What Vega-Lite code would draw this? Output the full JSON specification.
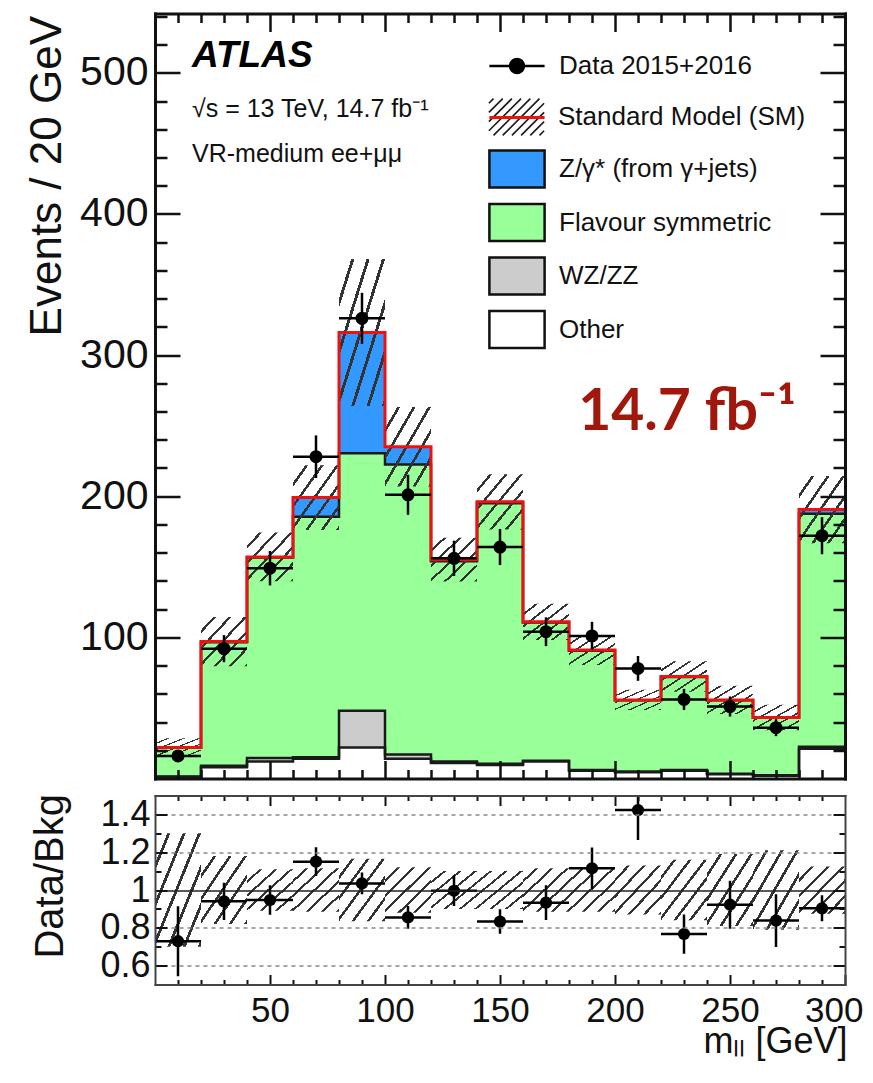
{
  "$schema": "https://vega.github.io/schema/vega-lite/v6.json",
  "background": "white",
  "padding": {"left": 25, "top": 11.5, "right": 5, "bottom": 5},
  "bounds": "flush",
  "spacing": 17,
  "config": {
    "font": "Liberation Sans",
    "view": {"stroke": null},
    "axis": {"labelFont": "Liberation Sans", "titleFont": "Liberation Sans", "labelColor": "#111", "titleColor": "#111", "tickColor": "#111", "titleFontWeight": "normal", "grid": false, "labelFlush": false, "domainCap": "square"},
    "legend": {"orient": "none", "title": null, "padding": 0, "direction": "vertical", "labelFont": "Liberation Sans", "labelFontSize": 26, "labelColor": "#111", "labelOffset": 17.5, "rowPadding": 5.5, "labelLimit": 400, "symbolSize": 2116, "symbolOpacity": 1}
  },
  "title": {
    "text": "ATLAS",
    "subtitle": ["√s = 13 TeV, 14.7 fb⁻¹", "VR-medium ee+μμ"],
    "anchor": "start", "frame": "group", "orient": "top", "offset": -156, "dx": 37,
    "font": "Liberation Sans", "fontSize": 37, "fontWeight": "bold", "fontStyle": "italic", "color": "#000",
    "subtitleFont": "Liberation Sans", "subtitleFontSize": 25, "subtitleColor": "#111", "subtitlePadding": 22, "subtitleLineHeight": 45
  },
  "datasets": {
    "bkg": [
      {"lo": 0, "hi": 20, "c_z": 0, "d_fs": 20.5, "e_wz": 0.5, "f_other": 1},
      {"lo": 20, "hi": 40, "c_z": 0.5, "d_fs": 87.5, "e_wz": 1, "f_other": 8},
      {"lo": 40, "hi": 60, "c_z": 0.5, "d_fs": 142, "e_wz": 2.5, "f_other": 12},
      {"lo": 60, "hi": 80, "c_z": 13.5, "d_fs": 170.5, "e_wz": 1, "f_other": 14},
      {"lo": 80, "hi": 100, "c_z": 85.5, "d_fs": 182.5, "e_wz": 26, "f_other": 22},
      {"lo": 100, "hi": 120, "c_z": 12.5, "d_fs": 205.5, "e_wz": 3, "f_other": 14},
      {"lo": 120, "hi": 140, "c_z": 1, "d_fs": 142, "e_wz": 1, "f_other": 11},
      {"lo": 140, "hi": 160, "c_z": 1, "d_fs": 184.5, "e_wz": 1, "f_other": 9.5},
      {"lo": 160, "hi": 180, "c_z": 0.5, "d_fs": 98, "e_wz": 0.5, "f_other": 12},
      {"lo": 180, "hi": 200, "c_z": 0.5, "d_fs": 84.5, "e_wz": 0.5, "f_other": 5.5},
      {"lo": 200, "hi": 220, "c_z": 0.2, "d_fs": 50.5, "e_wz": 0.5, "f_other": 4.5},
      {"lo": 220, "hi": 240, "c_z": 0.2, "d_fs": 66, "e_wz": 0.5, "f_other": 5.5},
      {"lo": 240, "hi": 260, "c_z": 0.2, "d_fs": 52.2, "e_wz": 0.3, "f_other": 3},
      {"lo": 260, "hi": 280, "c_z": 0.2, "d_fs": 40.7, "e_wz": 0.3, "f_other": 2},
      {"lo": 280, "hi": 300, "c_z": 3, "d_fs": 165, "e_wz": 1.5, "f_other": 21},
      {"lo": 300, "hi": 300, "c_z": 3, "d_fs": 165, "e_wz": 1.5, "f_other": 21}
    ],
    "bins": [
      {"lo": 0, "hi": 20, "m": 10, "n": 16, "nlo": 12, "nhi": 20, "blo": 15.4, "bhi": 28.6, "r": 0.729, "rlo": 0.544, "rhi": 0.914, "rblo": 0.70, "rbhi": 1.30},
      {"lo": 20, "hi": 40, "m": 30, "n": 92, "nlo": 82.4, "nhi": 101.6, "blo": 79.5, "bhi": 114.5, "r": 0.94, "rlo": 0.841, "rhi": 1.039, "rblo": 0.82, "rbhi": 1.18},
      {"lo": 40, "hi": 60, "m": 50, "n": 149, "nlo": 136.8, "nhi": 161.2, "blo": 139.7, "bhi": 174.3, "r": 0.947, "rlo": 0.869, "rhi": 1.025, "rblo": 0.89, "rbhi": 1.11},
      {"lo": 60, "hi": 80, "m": 70, "n": 228, "nlo": 212.9, "nhi": 243.1, "blo": 176.1, "bhi": 221.9, "r": 1.15, "rlo": 1.074, "rhi": 1.226, "rblo": 0.885, "rbhi": 1.115},
      {"lo": 80, "hi": 100, "m": 90, "n": 326, "nlo": 307.9, "nhi": 344.1, "blo": 263.9, "bhi": 368.1, "r": 1.035, "rlo": 0.978, "rhi": 1.092, "rblo": 0.835, "rbhi": 1.165},
      {"lo": 100, "hi": 120, "m": 110, "n": 201, "nlo": 186.8, "nhi": 215.2, "blo": 206.8, "bhi": 263.2, "r": 0.855, "rlo": 0.795, "rhi": 0.915, "rblo": 0.88, "rbhi": 1.12},
      {"lo": 120, "hi": 140, "m": 130, "n": 156, "nlo": 143.5, "nhi": 168.5, "blo": 139.5, "bhi": 170.5, "r": 0.996, "rlo": 0.915, "rhi": 1.077, "rblo": 0.90, "rbhi": 1.10},
      {"lo": 140, "hi": 160, "m": 150, "n": 164, "nlo": 151.2, "nhi": 176.8, "blo": 176.4, "bhi": 215.6, "r": 0.833, "rlo": 0.768, "rhi": 0.898, "rblo": 0.90, "rbhi": 1.10},
      {"lo": 160, "hi": 180, "m": 170, "n": 104, "nlo": 93.8, "nhi": 114.2, "blo": 98.2, "bhi": 123.8, "r": 0.933, "rlo": 0.841, "rhi": 1.025, "rblo": 0.885, "rbhi": 1.115},
      {"lo": 180, "hi": 200, "m": 190, "n": 101, "nlo": 91, "nhi": 111, "blo": 80.5, "bhi": 101.5, "r": 1.115, "rlo": 1.005, "rhi": 1.225, "rblo": 0.885, "rbhi": 1.115},
      {"lo": 200, "hi": 220, "m": 210, "n": 78, "nlo": 69.2, "nhi": 86.8, "blo": 48.5, "bhi": 62.9, "r": 1.423, "rlo": 1.265, "rhi": 1.581, "rblo": 0.87, "rbhi": 1.13},
      {"lo": 220, "hi": 240, "m": 230, "n": 56, "nlo": 48.5, "nhi": 63.5, "blo": 61.4, "bhi": 83, "r": 0.767, "rlo": 0.663, "rhi": 0.871, "rblo": 0.84, "rbhi": 1.16},
      {"lo": 240, "hi": 260, "m": 250, "n": 51, "nlo": 43.9, "nhi": 58.1, "blo": 45.7, "bhi": 65.7, "r": 0.922, "rlo": 0.795, "rhi": 1.049, "rblo": 0.81, "rbhi": 1.19},
      {"lo": 260, "hi": 280, "m": 270, "n": 36, "nlo": 30, "nhi": 42, "blo": 34.1, "bhi": 52.3, "r": 0.838, "rlo": 0.699, "rhi": 0.977, "rblo": 0.79, "rbhi": 1.21},
      {"lo": 280, "hi": 300, "m": 290, "n": 172, "nlo": 158.9, "nhi": 185.1, "blo": 166.7, "bhi": 214.3, "r": 0.903, "rlo": 0.834, "rhi": 0.972, "rblo": 0.875, "rbhi": 1.125}
    ]
  },
  "resolve": {"scale": {"x": "independent", "y": "independent"}},
  "vconcat": [
    {
      "width": 690,
      "height": 765,
      "title": {"text": "14.7 fb⁻¹", "anchor": "end", "frame": "group", "orient": "top", "offset": -430, "dx": -49, "font": "Lato", "fontSize": 57, "fontWeight": "bold", "color": "#a0180c"},
      "resolve": {"axis": {"x": "independent", "y": "independent"}},
      "layer": [
        {
          "data": {"name": "bkg"},
          "transform": [
            {"fold": ["c_z", "d_fs", "e_wz", "f_other"], "as": ["proc", "n"]},
            {"filter": "datum.lo < 300"},
            {"stack": "n", "groupby": ["lo"], "sort": [{"field": "proc", "order": "descending"}], "as": ["n0", "n1"]}
          ],
          "mark": {"type": "rect"},
          "encoding": {
            "x": {"field": "lo", "type": "quantitative", "scale": {"domain": [0, 300], "nice": false, "zero": false},
              "axis": {"orient": "bottom", "values": [10,20,30,40,50,60,70,80,90,100,110,120,130,140,150,160,170,180,190,200,210,220,230,240,250,260,270,280,290], "labels": false, "title": null,
                "tickSize": -18, "tickDash": {"condition": {"test": "datum.value % 50 === 0", "value": [40, 0]}, "value": [9, 40]}, "tickWidth": 2.5,
                "domain": true, "domainWidth": 3, "domainColor": "#111", "zindex": 1}},
            "x2": {"field": "hi"},
            "y": {"field": "n0", "type": "quantitative", "scale": {"domain": [0, 542], "nice": false},
              "axis": {"orient": "left", "values": [20,40,60,80,100,120,140,160,180,200,220,240,260,280,300,320,340,360,380,400,420,440,460,480,500,520,540],
                "labelExpr": "datum.value % 100 === 0 ? datum.label : ''", "labelFontSize": 41, "labelPadding": 32,
                "tickSize": -25, "tickDash": {"condition": {"test": "datum.value % 100 === 0", "value": [40, 0]}, "value": [12, 40]}, "tickWidth": 2.5,
                "domain": true, "domainWidth": 3, "domainColor": "#111", "zindex": 1,
                "title": "Events / 20 GeV", "titleFontSize": 44, "titleAngle": 270, "titleX": -95, "titleY": 2, "titleAlign": "right", "titleBaseline": "alphabetic"}},
            "y2": {"field": "n1"},
            "fill": {"field": "proc", "type": "nominal",
              "scale": {"domain": ["c_z", "d_fs", "e_wz", "f_other"], "range": ["#3399ff", "#99ff99", "#cccccc", "#ffffff"]},
              "legend": {
                "legendX": 337.5, "legendY": 131,
                "symbolStrokeWidth": 2.5, "symbolStrokeColor": "#111", "symbolType": "M-1.2,-0.8H1.2V0.8H-1.2Z",
                "labelExpr": "datum.value === 'c_z' ? 'Z/γ* (from γ+jets)' : datum.value === 'd_fs' ? 'Flavour symmetric' : datum.value === 'e_wz' ? 'WZ/ZZ' : 'Other'"
              }
            }
          }
        },
        {
          "data": {"name": "bkg"},
          "transform": [{"fold": ["c_z", "d_fs", "e_wz", "f_other"], "as": ["proc", "n"]}],
          "mark": {"type": "line", "interpolate": "step-after", "strokeWidth": 2.5},
          "encoding": {
            "x": {"field": "lo", "type": "quantitative", "scale": {"domain": [0, 300], "nice": false, "zero": false}, "axis": null},
            "y": {"field": "n", "type": "quantitative", "stack": "zero", "scale": {"domain": [0, 542], "nice": false}, "axis": null},
            "detail": {"field": "proc", "type": "nominal"},
            "color": {"datum": "Standard Model (SM)", "type": "nominal", "scale": {"range": ["#1a1a1a"]},
              "legend": {"legendX": 337.5, "legendY": 79.5, "symbolStrokeWidth": 1.6,
                "symbolType": "M-1.2,-0.6L-1,-0.8M-1.2,-0.2L-0.6,-0.8M-1.2,0.2L-0.2,-0.8M-1.2,0.6L0.2,-0.8M-1,0.8L0.6,-0.8M-0.6,0.8L1,-0.8M-0.2,0.8L1.2,-0.6M0.2,0.8L1.2,-0.2M0.6,0.8L1.2,0.2M1,0.8L1.2,0.6"}},
            "strokeOpacity": {"condition": {"test": "datum.proc === 'c_z'", "value": 0}, "value": 1}
          }
        },
        {
          "data": {"name": "bins"},
          "mark": {"type": "rect", "fill": {"gradient": "linear", "x1": 0, "y1": 0, "x2": 1, "y2": 1, "stops": [
            {"offset": 0, "color": "rgba(255,255,255,0)"}, {"offset": 0.1333, "color": "rgba(255,255,255,0)"}, {"offset": 0.1333, "color": "#333333"}, {"offset": 0.1667, "color": "#333333"},
            {"offset": 0.1667, "color": "rgba(255,255,255,0)"}, {"offset": 0.3, "color": "rgba(255,255,255,0)"}, {"offset": 0.3, "color": "#333333"}, {"offset": 0.3333, "color": "#333333"},
            {"offset": 0.3333, "color": "rgba(255,255,255,0)"}, {"offset": 0.4667, "color": "rgba(255,255,255,0)"}, {"offset": 0.4667, "color": "#333333"}, {"offset": 0.5, "color": "#333333"},
            {"offset": 0.5, "color": "rgba(255,255,255,0)"}, {"offset": 0.6333, "color": "rgba(255,255,255,0)"}, {"offset": 0.6333, "color": "#333333"}, {"offset": 0.6667, "color": "#333333"},
            {"offset": 0.6667, "color": "rgba(255,255,255,0)"}, {"offset": 0.8, "color": "rgba(255,255,255,0)"}, {"offset": 0.8, "color": "#333333"}, {"offset": 0.8333, "color": "#333333"},
            {"offset": 0.8333, "color": "rgba(255,255,255,0)"}, {"offset": 0.9667, "color": "rgba(255,255,255,0)"}, {"offset": 0.9667, "color": "#333333"}, {"offset": 1, "color": "#333333"}]}},
          "encoding": {
            "x": {"field": "lo", "type": "quantitative", "scale": {"domain": [0, 300], "nice": false, "zero": false}, "axis": null},
            "x2": {"field": "hi"},
            "y": {"field": "blo", "type": "quantitative", "scale": {"domain": [0, 542], "nice": false}, "axis": null},
            "y2": {"field": "bhi"}
          }
        },
        {
          "data": {"name": "bkg"},
          "transform": [{"fold": ["c_z", "d_fs", "e_wz", "f_other"], "as": ["proc", "n"]}],
          "mark": {"type": "line", "interpolate": "step-after", "strokeWidth": 3},
          "encoding": {
            "x": {"field": "lo", "type": "quantitative", "scale": {"domain": [0, 300], "nice": false, "zero": false}, "axis": null},
            "y": {"field": "n", "type": "quantitative", "stack": "zero", "scale": {"domain": [0, 542], "nice": false}, "axis": null},
            "detail": {"field": "proc", "type": "nominal"},
            "stroke": {"datum": "SM", "type": "nominal", "scale": {"range": ["#ee1111"]},
              "legend": {"legendX": 337.5, "legendY": 79.5, "symbolStrokeWidth": 3, "symbolType": "M-1.2,0H1.2", "labelExpr": "''"}},
            "strokeOpacity": {"condition": {"test": "datum.proc === 'c_z'", "value": 1}, "value": 0}
          }
        },
        {
          "data": {"name": "bins"},
          "mark": {"type": "rule", "color": "#000", "strokeWidth": 2.5},
          "encoding": {
            "x": {"field": "m", "type": "quantitative", "scale": {"domain": [0, 300], "nice": false, "zero": false}, "axis": null},
            "y": {"field": "nlo", "type": "quantitative", "scale": {"domain": [0, 542], "nice": false}, "axis": null},
            "y2": {"field": "nhi"}
          }
        },
        {
          "data": {"name": "bins"},
          "mark": {"type": "rule", "color": "#000", "strokeWidth": 2.5},
          "encoding": {
            "x": {"field": "lo", "type": "quantitative", "scale": {"domain": [0, 300], "nice": false, "zero": false}, "axis": null},
            "x2": {"field": "hi"},
            "y": {"field": "n", "type": "quantitative", "scale": {"domain": [0, 542], "nice": false}, "axis": null},
            "strokeDash": {"datum": "Data 2015+2016", "type": "nominal", "scale": {"range": [[1, 0]]},
              "legend": {"legendX": 337.5, "legendY": 28, "symbolStrokeWidth": 2.5, "symbolStrokeColor": "#000", "symbolFillColor": "#000",
                "symbolType": "M-1.2,0H1.2M-0.3,0A0.3,0.3 0 1,1 0.3,0A0.3,0.3 0 1,1 -0.3,0Z"}}
          }
        },
        {
          "data": {"name": "bins"},
          "mark": {"type": "circle", "color": "#000", "opacity": 1, "size": 170},
          "encoding": {
            "x": {"field": "m", "type": "quantitative", "scale": {"domain": [0, 300], "nice": false, "zero": false},
              "axis": {"orient": "top", "values": [10,20,30,40,50,60,70,80,90,100,110,120,130,140,150,160,170,180,190,200,210,220,230,240,250,260,270,280,290], "labels": false, "title": null,
                "tickSize": -18, "tickDash": {"condition": {"test": "datum.value % 50 === 0", "value": [40, 0]}, "value": [9, 40]}, "tickWidth": 2.5,
                "domain": true, "domainWidth": 3, "domainColor": "#111", "zindex": 1}},
            "y": {"field": "n", "type": "quantitative", "scale": {"domain": [0, 542], "nice": false},
              "axis": {"orient": "right", "values": [20,40,60,80,100,120,140,160,180,200,220,240,260,280,300,320,340,360,380,400,420,440,460,480,500,520,540], "labels": false, "title": null,
                "tickSize": -25, "tickDash": {"condition": {"test": "datum.value % 100 === 0", "value": [40, 0]}, "value": [12, 40]}, "tickWidth": 2.5,
                "domain": true, "domainWidth": 3, "domainColor": "#111", "zindex": 1}}
          }
        }
      ]
    },
    {
      "width": 690,
      "height": 189,
      "resolve": {"axis": {"x": "independent", "y": "independent"}},
      "layer": [
        {
          "data": {"name": "bins"},
          "mark": {"type": "rect", "fill": {"gradient": "linear", "x1": 0, "y1": 0, "x2": 1, "y2": 1, "stops": [
            {"offset": 0, "color": "rgba(255,255,255,0)"}, {"offset": 0.1333, "color": "rgba(255,255,255,0)"}, {"offset": 0.1333, "color": "#333333"}, {"offset": 0.1667, "color": "#333333"},
            {"offset": 0.1667, "color": "rgba(255,255,255,0)"}, {"offset": 0.3, "color": "rgba(255,255,255,0)"}, {"offset": 0.3, "color": "#333333"}, {"offset": 0.3333, "color": "#333333"},
            {"offset": 0.3333, "color": "rgba(255,255,255,0)"}, {"offset": 0.4667, "color": "rgba(255,255,255,0)"}, {"offset": 0.4667, "color": "#333333"}, {"offset": 0.5, "color": "#333333"},
            {"offset": 0.5, "color": "rgba(255,255,255,0)"}, {"offset": 0.6333, "color": "rgba(255,255,255,0)"}, {"offset": 0.6333, "color": "#333333"}, {"offset": 0.6667, "color": "#333333"},
            {"offset": 0.6667, "color": "rgba(255,255,255,0)"}, {"offset": 0.8, "color": "rgba(255,255,255,0)"}, {"offset": 0.8, "color": "#333333"}, {"offset": 0.8333, "color": "#333333"},
            {"offset": 0.8333, "color": "rgba(255,255,255,0)"}, {"offset": 0.9667, "color": "rgba(255,255,255,0)"}, {"offset": 0.9667, "color": "#333333"}, {"offset": 1, "color": "#333333"}]}},
          "encoding": {
            "x": {"field": "lo", "type": "quantitative", "scale": {"domain": [0, 300], "nice": false, "zero": false},
              "axis": {"orient": "bottom", "values": [10,20,30,40,50,60,70,80,90,100,110,120,130,140,150,160,170,180,190,200,210,220,230,240,250,260,270,280,290,300],
                "labelExpr": "datum.value % 50 === 0 ? datum.label : ''", "labelFontSize": 35, "labelPadding": 19,
                "labelFlush": true, "labelFlushOffset": 18,
                "tickSize": -10, "tickDash": {"condition": {"test": "datum.value % 50 === 0", "value": [30, 0]}, "value": [5, 30]}, "tickWidth": 2,
                "domain": true, "domainWidth": 2, "domainColor": "#444", "zindex": 1,
                "title": "mₗₗ [GeV]", "titleFontSize": 36, "titleX": 692, "titleY": 68, "titleAlign": "right", "titleBaseline": "alphabetic"}},
            "x2": {"field": "hi"},
            "y": {"field": "rblo", "type": "quantitative", "scale": {"domain": [0.5, 1.5], "nice": false, "zero": false},
              "axis": {"orient": "left", "values": [0.6, 0.7, 0.8, 0.9, 1, 1.1, 1.2, 1.3, 1.4],
                "labelExpr": "round(datum.value*10) % 2 === 0 ? '' + round(datum.value*10)/10 : ''", "labelFontSize": 36, "labelPadding": 17,
                "tickSize": -12, "tickDash": {"condition": {"test": "round(datum.value*10) % 2 === 0", "value": [30, 0]}, "value": [6, 30]}, "tickWidth": 2,
                "grid": true, "gridWidth": 1.5,
                "gridDash": {"condition": {"test": "datum.value === 1", "value": [1, 0]}, "value": [4, 4]},
                "gridColor": {"condition": {"test": "datum.value === 1", "value": "#222"}, "value": "#888"},
                "gridOpacity": {"condition": {"test": "round(datum.value*10) % 2 === 0", "value": 1}, "value": 0},
                "domain": true, "domainWidth": 2, "domainColor": "#444", "zindex": 1,
                "title": "Data/Bkg", "titleFontSize": 40, "titleAngle": 270, "titleX": -93, "titleY": -2, "titleAlign": "right", "titleBaseline": "alphabetic"}},
            "y2": {"field": "rbhi"}
          }
        },
        {
          "data": {"name": "bins"},
          "mark": {"type": "rule", "color": "#000", "strokeWidth": 2.5, "clip": true},
          "encoding": {
            "x": {"field": "m", "type": "quantitative", "scale": {"domain": [0, 300], "nice": false, "zero": false}, "axis": null},
            "y": {"field": "rlo", "type": "quantitative", "scale": {"domain": [0.5, 1.5], "nice": false, "zero": false}, "axis": null},
            "y2": {"field": "rhi"}
          }
        },
        {
          "data": {"name": "bins"},
          "mark": {"type": "rule", "color": "#000", "strokeWidth": 2.5},
          "encoding": {
            "x": {"field": "lo", "type": "quantitative", "scale": {"domain": [0, 300], "nice": false, "zero": false}, "axis": null},
            "x2": {"field": "hi"},
            "y": {"field": "r", "type": "quantitative", "scale": {"domain": [0.5, 1.5], "nice": false, "zero": false}, "axis": null}
          }
        },
        {
          "data": {"name": "bins"},
          "mark": {"type": "circle", "color": "#000", "opacity": 1, "size": 150},
          "encoding": {
            "x": {"field": "m", "type": "quantitative", "scale": {"domain": [0, 300], "nice": false, "zero": false},
              "axis": {"orient": "top", "values": [10,20,30,40,50,60,70,80,90,100,110,120,130,140,150,160,170,180,190,200,210,220,230,240,250,260,270,280,290], "labels": false, "title": null,
                "tickSize": -10, "tickDash": {"condition": {"test": "datum.value % 50 === 0", "value": [30, 0]}, "value": [5, 30]}, "tickWidth": 2,
                "domain": true, "domainWidth": 2, "domainColor": "#444", "zindex": 1}},
            "y": {"field": "r", "type": "quantitative", "scale": {"domain": [0.5, 1.5], "nice": false, "zero": false},
              "axis": {"orient": "right", "values": [0.6, 0.7, 0.8, 0.9, 1, 1.1, 1.2, 1.3, 1.4], "labels": false, "title": null,
                "tickSize": -12, "tickDash": {"condition": {"test": "round(datum.value*10) % 2 === 0", "value": [30, 0]}, "value": [6, 30]}, "tickWidth": 2,
                "domain": true, "domainWidth": 2, "domainColor": "#444", "zindex": 1}}
          }
        }
      ]
    }
  ]
}
